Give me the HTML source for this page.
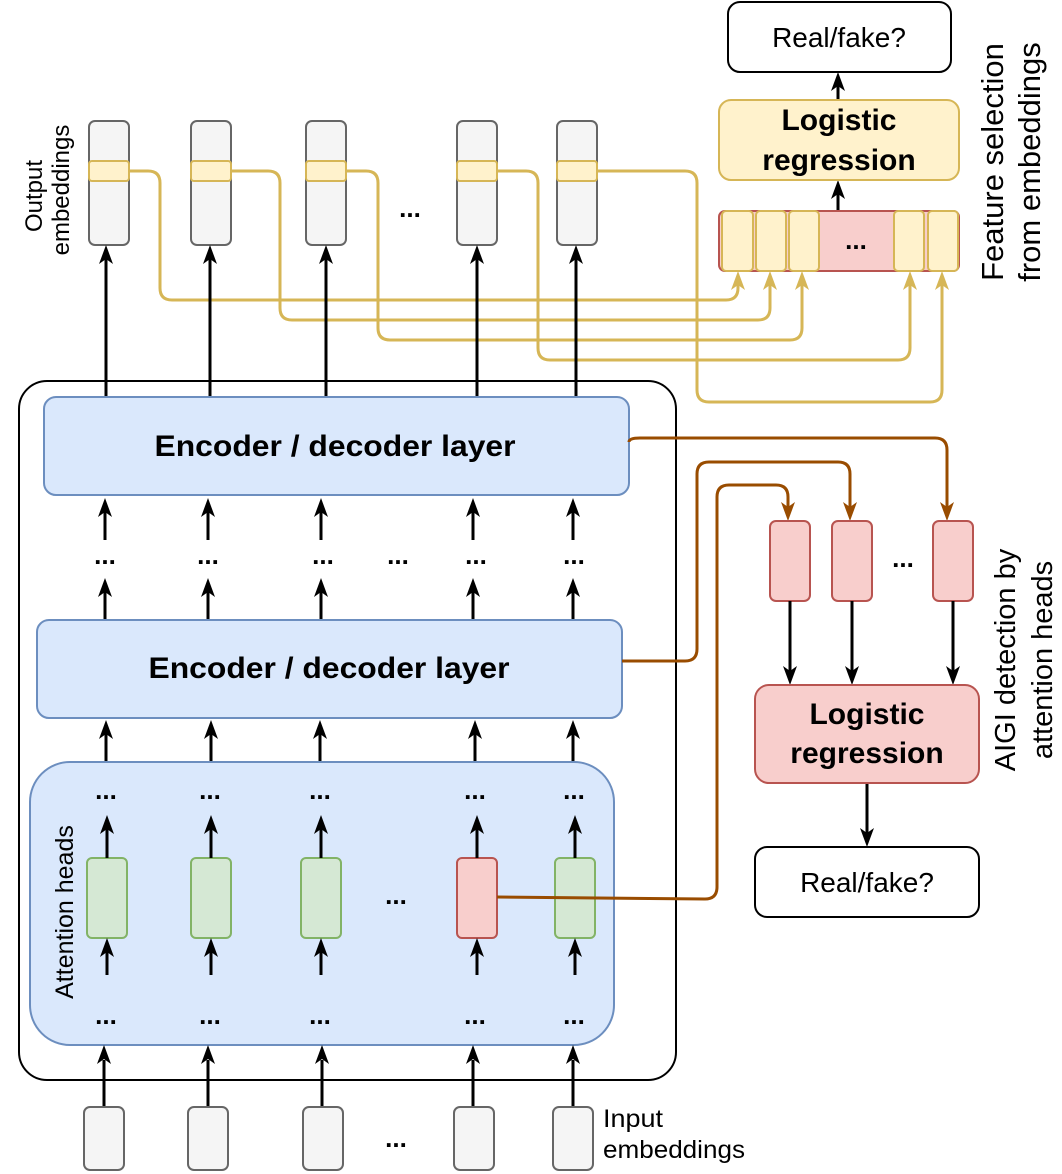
<!DOCTYPE html>
<html><head><meta charset="utf-8"><style>
html,body{margin:0;padding:0;background:#fff;}
svg{display:block;font-family:"Liberation Sans",Arial,sans-serif;}
</style></head><body>
<svg width="1062" height="1174" viewBox="0 0 1062 1174" xmlns="http://www.w3.org/2000/svg">
<style>
.k{stroke:#000;stroke-width:3;fill:none}
.y{stroke:#d6b656;stroke-width:3;fill:none}
.b{stroke:#994c00;stroke-width:3;fill:none}
.dots{font-weight:bold;font-size:26px;text-anchor:middle}
</style>

<rect x="19" y="381" width="657" height="699" rx="28" fill="#fff" stroke="#000" stroke-width="2"/>

<g class="y">
<path d="M129 171 H148 Q160 171 160 183 V288 Q160 300 172 300 H726 Q738 300 738 288 V285"/>
<path d="M231 171 H268 Q280 171 280 183 V308 Q280 320 292 320 H758 Q770 320 770 308 V285"/>
<path d="M346 171 H366 Q378 171 378 183 V328 Q378 340 390 340 H790 Q802 340 802 328 V285"/>
<path d="M497 171 H526 Q538 171 538 183 V348 Q538 360 550 360 H898 Q910 360 910 348 V285"/>
<path d="M597 171 H685 Q697 171 697 183 V390 Q697 402 709 402 H930 Q942 402 942 390 V285"/>
</g>
<g fill="#d6b656">
<path d="M738 271 l-7 19 l7 -5 l7 5 z"/><path d="M770 271 l-7 19 l7 -5 l7 5 z"/><path d="M802 271 l-7 19 l7 -5 l7 5 z"/><path d="M910 271 l-7 19 l7 -5 l7 5 z"/><path d="M942 271 l-7 19 l7 -5 l7 5 z"/>
</g>

<g stroke="#666" stroke-width="2" fill="#f5f5f5">
<rect x="89" y="121" width="40" height="124" rx="6"/>
<rect x="191" y="121" width="40" height="124" rx="6"/>
<rect x="306" y="121" width="40" height="124" rx="6"/>
<rect x="457" y="121" width="40" height="124" rx="6"/>
<rect x="557" y="121" width="40" height="124" rx="6"/>
</g>
<g stroke="#d6b656" stroke-width="2" fill="#fff2cc">
<rect x="89" y="161" width="40" height="20" rx="3"/>
<rect x="191" y="161" width="40" height="20" rx="3"/>
<rect x="306" y="161" width="40" height="20" rx="3"/>
<rect x="457" y="161" width="40" height="20" rx="3"/>
<rect x="557" y="161" width="40" height="20" rx="3"/>
</g>
<text x="410" y="217" class="dots">...</text>
<text transform="translate(42,196) rotate(-90)" font-size="24" text-anchor="middle">Output</text>
<text transform="translate(69,190) rotate(-90)" font-size="24" text-anchor="middle">embeddings</text>

<g class="k">
<path d="M106 397 V258"/><path d="M210 397 V258"/><path d="M326 397 V258"/><path d="M477 397 V258"/><path d="M576 397 V258"/>
</g>
<g>
<path d="M106 245 l-7 19 l7 -5 l7 5 z"/><path d="M210 245 l-7 19 l7 -5 l7 5 z"/><path d="M326 245 l-7 19 l7 -5 l7 5 z"/><path d="M477 245 l-7 19 l7 -5 l7 5 z"/><path d="M576 245 l-7 19 l7 -5 l7 5 z"/>
</g>

<rect x="44" y="397" width="585" height="98" rx="12" fill="#dae8fc" stroke="#6c8ebf" stroke-width="2"/>
<text x="335" y="456" font-size="30" font-weight="bold" text-anchor="middle" textLength="361" lengthAdjust="spacingAndGlyphs">Encoder / decoder layer</text>

<g class="k">
<path d="M105 540 V510"/><path d="M208 540 V510"/><path d="M321 540 V510"/><path d="M473 540 V510"/><path d="M573 540 V510"/>
<path d="M105 620 V590"/><path d="M208 620 V590"/><path d="M321 620 V590"/><path d="M473 620 V590"/><path d="M573 620 V590"/>
<path d="M106 762 V733"/><path d="M211 762 V733"/><path d="M320 762 V733"/><path d="M475 762 V733"/><path d="M573 762 V733"/>
</g>
<g>
<path d="M105 498 l-7 19 l7 -5 l7 5 z"/><path d="M208 498 l-7 19 l7 -5 l7 5 z"/><path d="M321 498 l-7 19 l7 -5 l7 5 z"/><path d="M473 498 l-7 19 l7 -5 l7 5 z"/><path d="M573 498 l-7 19 l7 -5 l7 5 z"/>
<path d="M105 578 l-7 19 l7 -5 l7 5 z"/><path d="M208 578 l-7 19 l7 -5 l7 5 z"/><path d="M321 578 l-7 19 l7 -5 l7 5 z"/><path d="M473 578 l-7 19 l7 -5 l7 5 z"/><path d="M573 578 l-7 19 l7 -5 l7 5 z"/>
<path d="M106 720 l-7 19 l7 -5 l7 5 z"/><path d="M211 720 l-7 19 l7 -5 l7 5 z"/><path d="M320 720 l-7 19 l7 -5 l7 5 z"/><path d="M475 720 l-7 19 l7 -5 l7 5 z"/><path d="M573 720 l-7 19 l7 -5 l7 5 z"/>
</g>
<text x="105" y="564" class="dots">...</text><text x="208" y="564" class="dots">...</text><text x="323" y="564" class="dots">...</text><text x="398" y="564" class="dots">...</text><text x="476" y="564" class="dots">...</text><text x="574" y="564" class="dots">...</text>

<rect x="37" y="620" width="585" height="98" rx="12" fill="#dae8fc" stroke="#6c8ebf" stroke-width="2"/>
<text x="329" y="678" font-size="30" font-weight="bold" text-anchor="middle" textLength="361" lengthAdjust="spacingAndGlyphs">Encoder / decoder layer</text>

<rect x="30" y="762" width="584" height="283" rx="40" fill="#dae8fc" stroke="#6c8ebf" stroke-width="2"/>
<text transform="translate(73,912) rotate(-90)" font-size="25" text-anchor="middle">Attention heads</text>
<g stroke="#82b366" stroke-width="2" fill="#d5e8d4">
<rect x="87" y="858" width="40" height="80" rx="5"/>
<rect x="191" y="858" width="40" height="80" rx="5"/>
<rect x="301" y="858" width="40" height="80" rx="5"/>
<rect x="555" y="858" width="40" height="80" rx="5"/>
</g>
<rect x="457" y="858" width="40" height="80" rx="5" fill="#f8cecc" stroke="#b85450" stroke-width="2"/>
<text x="396" y="904" class="dots">...</text>
<g class="k">
<path d="M107 858 V828"/><path d="M211 858 V828"/><path d="M321 858 V828"/><path d="M477 858 V828"/><path d="M575 858 V828"/>
<path d="M107 975 V950"/><path d="M211 975 V950"/><path d="M321 975 V950"/><path d="M477 975 V950"/><path d="M575 975 V950"/>
<path d="M104 1107 V1060"/><path d="M208 1107 V1060"/><path d="M322 1107 V1060"/><path d="M473 1107 V1060"/><path d="M573 1107 V1060"/>
</g>
<g>
<path d="M107 815 l-7 19 l7 -5 l7 5 z"/><path d="M211 815 l-7 19 l7 -5 l7 5 z"/><path d="M321 815 l-7 19 l7 -5 l7 5 z"/><path d="M477 815 l-7 19 l7 -5 l7 5 z"/><path d="M575 815 l-7 19 l7 -5 l7 5 z"/>
<path d="M107 938 l-7 19 l7 -5 l7 5 z"/><path d="M211 938 l-7 19 l7 -5 l7 5 z"/><path d="M321 938 l-7 19 l7 -5 l7 5 z"/><path d="M477 938 l-7 19 l7 -5 l7 5 z"/><path d="M575 938 l-7 19 l7 -5 l7 5 z"/>
<path d="M104 1045 l-7 19 l7 -5 l7 5 z"/><path d="M208 1045 l-7 19 l7 -5 l7 5 z"/><path d="M322 1045 l-7 19 l7 -5 l7 5 z"/><path d="M473 1045 l-7 19 l7 -5 l7 5 z"/><path d="M573 1045 l-7 19 l7 -5 l7 5 z"/>
</g>
<text x="106" y="1024" class="dots">...</text><text x="210" y="1024" class="dots">...</text><text x="320" y="1024" class="dots">...</text><text x="475" y="1024" class="dots">...</text><text x="574" y="1024" class="dots">...</text>
<text x="106" y="799" class="dots">...</text><text x="210" y="799" class="dots">...</text><text x="320" y="799" class="dots">...</text><text x="475" y="799" class="dots">...</text><text x="574" y="799" class="dots">...</text>

<g stroke="#666" stroke-width="2" fill="#f5f5f5">
<rect x="84" y="1107" width="40" height="63" rx="6"/>
<rect x="188" y="1107" width="40" height="63" rx="6"/>
<rect x="303" y="1107" width="40" height="63" rx="6"/>
<rect x="454" y="1107" width="40" height="63" rx="6"/>
<rect x="553" y="1107" width="40" height="63" rx="6"/>
</g>
<text x="396" y="1147" class="dots">...</text>
<text x="603" y="1127" font-size="25" textLength="60" lengthAdjust="spacingAndGlyphs">Input</text>
<text x="603" y="1158" font-size="25" textLength="142" lengthAdjust="spacingAndGlyphs">embeddings</text>

<g class="b">
<path d="M629 442 Q629 438 640 438 H935 Q947 438 947 450 V510"/>
<path d="M622 661 H685 Q697 661 697 649 V474 Q697 462 709 462 H838 Q850 462 850 474 V510"/>
<path d="M497 897 L705 899 Q717 899 717 887 V497 Q717 485 729 485 H776 Q788 485 788 497 V510"/>
</g>
<g fill="#994c00">
<path d="M947 521 l-7 -19 l7 5 l7 -5 z"/><path d="M850 521 l-7 -19 l7 5 l7 -5 z"/><path d="M788 521 l-7 -19 l7 5 l7 -5 z"/>
</g>

<g stroke="#b85450" stroke-width="2" fill="#f8cecc">
<rect x="770" y="521" width="40" height="80" rx="6"/>
<rect x="832" y="521" width="40" height="80" rx="6"/>
<rect x="933" y="521" width="40" height="80" rx="6"/>
</g>
<text x="903" y="567" class="dots">...</text>
<g class="k"><path d="M790 601 V672"/><path d="M852 601 V672"/><path d="M953 601 V672"/><path d="M867 783 V834"/><path d="M838 100 V85"/><path d="M838 212 V193"/></g>
<g><path d="M790 685 l-7 -19 l7 5 l7 -5 z"/><path d="M852 685 l-7 -19 l7 5 l7 -5 z"/><path d="M953 685 l-7 -19 l7 5 l7 -5 z"/><path d="M867 847 l-7 -19 l7 5 l7 -5 z"/>
<path d="M838 72 l-7 19 l7 -5 l7 5 z"/><path d="M838 180 l-7 19 l7 -5 l7 5 z"/></g>

<rect x="755" y="685" width="224" height="98" rx="14" fill="#f8cecc" stroke="#b85450" stroke-width="2"/>
<text x="867" y="724" font-size="30" font-weight="bold" text-anchor="middle">Logistic</text>
<text x="867" y="763" font-size="30" font-weight="bold" text-anchor="middle">regression</text>
<rect x="755" y="847" width="224" height="70" rx="12" fill="#fff" stroke="#000" stroke-width="2"/>
<text x="867" y="892" font-size="28" text-anchor="middle">Real/fake?</text>
<text transform="translate(1015,660) rotate(-90)" font-size="29" text-anchor="middle">AIGI detection by</text>
<text transform="translate(1052,660) rotate(-90)" font-size="29" text-anchor="middle">attention heads</text>

<rect x="728" y="2" width="223" height="70" rx="12" fill="#fff" stroke="#000" stroke-width="2"/>
<text x="839" y="47" font-size="28" text-anchor="middle">Real/fake?</text>
<rect x="719" y="100" width="240" height="80" rx="12" fill="#fff2cc" stroke="#d6b656" stroke-width="2"/>
<text x="839" y="130" font-size="30" font-weight="bold" text-anchor="middle">Logistic</text>
<text x="839" y="170" font-size="30" font-weight="bold" text-anchor="middle">regression</text>
<rect x="719" y="211" width="240" height="60" rx="6" fill="#f8cecc" stroke="#b85450" stroke-width="2"/>
<g stroke="#d6b656" stroke-width="2" fill="#fff2cc">
<rect x="722" y="211" width="31" height="60" rx="4"/>
<rect x="756" y="211" width="30" height="60" rx="4"/>
<rect x="789" y="211" width="30" height="60" rx="4"/>
<rect x="894" y="211" width="30" height="60" rx="4"/>
<rect x="928" y="211" width="30" height="60" rx="4"/>
</g>
<text x="856" y="249" class="dots">...</text>
<text transform="translate(1003,162) rotate(-90)" font-size="31" text-anchor="middle">Feature selection</text>
<text transform="translate(1040,162) rotate(-90)" font-size="31" text-anchor="middle">from embeddings</text>
</svg>
</body></html>
